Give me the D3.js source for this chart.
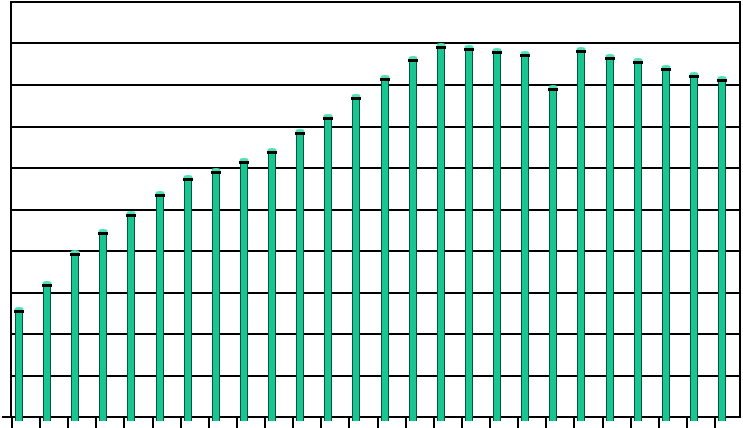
<!DOCTYPE html>
<html><head><meta charset="utf-8">
<script src="https://cdn.jsdelivr.net/npm/d3@7"></script>
<style>html,body{margin:0;padding:0;background:#fff;}svg{display:block;}</style>
</head><body>
<svg id="c" width="743" height="428"></svg>
<script>
const categories = d3.range(1, 27).map(String);
const values = [2.58, 3.20, 3.95, 4.46, 4.89, 5.37, 5.76, 5.93, 6.17, 6.41,
                6.87, 7.23, 7.71, 8.17, 8.63, 8.94, 8.89, 8.82, 8.75, 7.93,
                8.84, 8.67, 8.58, 8.41, 8.24, 8.14];
const yTicks = d3.range(0, 11);

const svg = d3.select("#c");
const x = d3.scaleBand().domain(categories).range([12, 743.1]).padding(0);
const y = d3.scaleLinear().domain([0, 10]).range([417, 2]);
const ry = d => Math.round(y(d));
const rx = d => Math.round(x(d));

// gridlines
svg.append("g").selectAll("line").data(yTicks.filter(d => d > 0)).join("line")
  .attr("x1", 10).attr("x2", 741)
  .attr("y1", d => ry(d)).attr("y2", d => ry(d))
  .attr("stroke", "#000").attr("stroke-width", 2);
// bottom axis line
svg.append("line").attr("x1", 2).attr("x2", 741).attr("y1", ry(0)).attr("y2", ry(0))
  .attr("stroke", "#000").attr("stroke-width", 2);
// left axis / right border
svg.append("line").attr("x1", 11).attr("x2", 11).attr("y1", 1).attr("y2", 418)
  .attr("stroke", "#000").attr("stroke-width", 2);
svg.append("line").attr("x1", 740).attr("x2", 740).attr("y1", 1).attr("y2", 418)
  .attr("stroke", "#000").attr("stroke-width", 2);
// category ticks
svg.append("g").selectAll("line").data(categories).join("line")
  .attr("x1", d => rx(d)).attr("x2", d => rx(d))
  .attr("y1", 418).attr("y2", 428)
  .attr("stroke", "#000").attr("stroke-width", 2);

const off = 7;
const cx = i => Math.round(x(categories[i]) + off);
const bars = svg.append("g").selectAll("g").data(values).join("g");
bars.append("rect")
  .attr("x", (d, i) => cx(i) - 4)
  .attr("width", 8)
  .attr("y", d => ry(d))
  .attr("height", d => 421 - ry(d))
  .attr("fill", "#19c590");
bars.append("rect")
  .attr("x", (d, i) => cx(i) - 4)
  .attr("width", 1)
  .attr("y", d => ry(d))
  .attr("height", d => 421 - ry(d))
  .attr("fill", "#08553f");
bars.append("rect")
  .attr("x", (d, i) => cx(i) + 3)
  .attr("width", 1)
  .attr("y", d => ry(d))
  .attr("height", d => 421 - ry(d))
  .attr("fill", "#08553f");
bars.append("ellipse")
  .attr("cx", (d, i) => cx(i))
  .attr("cy", d => ry(d) - 1)
  .attr("rx", 4.5).attr("ry", 2)
  .attr("fill", "#4fe0b6");
bars.append("rect")
  .attr("x", (d, i) => cx(i) - 5)
  .attr("width", 10)
  .attr("y", d => ry(d))
  .attr("height", 3)
  .attr("fill", "#000");
</script>
</body></html>
